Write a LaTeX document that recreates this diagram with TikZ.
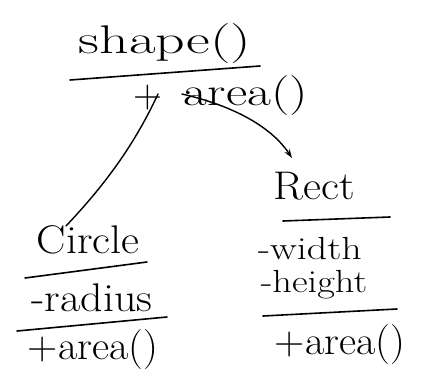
\documentclass[tikz,border=0pt]{standalone}
\usetikzlibrary{arrows.meta}
\tikzset{
  lbl/.style={inner sep=0pt, font=\fontsize{40}{40}\selectfont},
  small/.style={inner sep=0pt, font=\fontsize{32}{32}\selectfont},
  rule/.style={line width=1.6pt, line cap=round},
  link/.style={line width=1.4pt, line cap=round}
}
\newcommand{\wide}[2]{\scalebox{#1}[1]{#2}}
\begin{document}
\begin{tikzpicture}[x=1pt,y=-1pt]
\useasboundingbox (0,0) rectangle (435,371);
% base class
\node[lbl] (shape) at (165,44) {\wide{1.45}{shape()}};
\draw[rule] (70,80) -- (260,66);
\node[lbl] (plus) at (148,98) {+};
\node[lbl] (sarea) at (246,96) {\wide{1.3}{area()}};
% Circle class
\node[lbl] (circle) at (88,240) {\wide{1.1}{Circle}};
\draw[rule] (25,278) -- (147,262);
\node[lbl] (radius) at (92,298) {\wide{1.1}{-radius}};
\draw[rule] (17,331) -- (167,317);
\node[lbl] (carea) at (93,350) {\wide{1.05}{+area()}};
% Rect class
\node[lbl] (rect) at (314,186) {\wide{1.1}{Rect}};
\draw[rule] (283,221) -- (390,217);
\node[small] (width) at (310,249) {\wide{1.25}{-width}};
\node[small] (height) at (314,285) {\wide{1.2}{-height}};
\draw[rule] (263,316) -- (397,309);
\node[lbl] (rarea) at (340,345) {\wide{1.05}{+area()}};
% connectors
\coordinate (c0) at (158,94);
\coordinate (c1) at (66,226);
\coordinate (r0) at (182,94);
\coordinate (r1) at (292,158);
\draw[link] (c0) .. controls (132,150) and (100,190) .. (c1);
\draw[link, -{Stealth[length=9pt,width=6pt]}] (r0) .. controls (230,105) and (270,125) .. (r1);
\end{tikzpicture}
\end{document}
